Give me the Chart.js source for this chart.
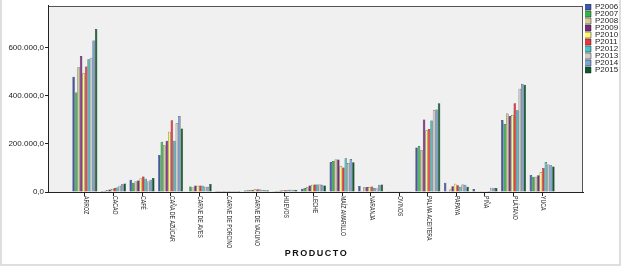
<!DOCTYPE html>
<html>
<head>
<meta charset="utf-8">
<script src="https://cdn.jsdelivr.net/npm/chart.js@4.4.0/dist/chart.umd.min.js"></script>
<style>
  body { margin: 0; background: #fff; }
  canvas { display: block; }
</style>
</head>
<body>
<canvas id="chart" width="621" height="267"></canvas>
<script>
// categories on the x axis
const categories = ['ARROZ', 'CACAO', 'CAFÉ', 'CAÑA DE AZÚCAR', 'CARNE DE AVES', 'CARNE DE PORCINO',
  'CARNE DE VACUNO', 'HUEVOS', 'LECHE', 'MAÍZ AMARILLO', 'NARANJA', 'OVINOS', 'PALMA ACEITERA',
  'PAPAYA', 'PIÑA', 'PLÁTANO', 'YUCA'];

const seriesNames = ['P2006', 'P2007', 'P2008', 'P2009', 'P2010', 'P2011', 'P2012', 'P2013', 'P2014', 'P2015'];

// production per year
const p2006 = [480000, 4000, 51000, 154000, 2000, 4000, 6000, 3000, 14000, 125000, 25000, 800, 185000, 38000, 13000, 300000, 71000];
const p2007 = [414000, 5000, 38000, 209000, 23000, 4000, 7000, 4000, 17000, 129000, 3000, 800, 191000, 3000, 1000, 283000, 63000];
const p2008 = [519000, 8000, 44000, 195000, 19000, 4000, 8000, 5000, 20000, 135000, 20000, 800, 174000, 10000, 1000, 327000, 63000];
const p2009 = [566000, 10000, 48000, 213000, 27000, 4000, 9000, 6000, 27000, 135000, 21000, 800, 302000, 24000, 1000, 316000, 70000];
const p2010 = [494000, 13000, 56000, 251000, 26000, 4000, 11000, 8000, 30000, 107000, 21000, 800, 257000, 34000, 1000, 320000, 82000];
const p2011 = [522000, 17000, 64000, 299000, 27000, 4000, 11000, 7000, 31000, 102000, 23000, 800, 262000, 28000, 1000, 369000, 100000];
const p2012 = [553000, 19000, 55000, 213000, 26000, 4000, 10000, 9000, 31000, 140000, 17000, 800, 298000, 22000, 4000, 340000, 125000];
const p2013 = [559000, 26000, 44000, 286000, 22000, 4000, 8000, 9000, 31000, 121000, 15000, 800, 340000, 31000, 18000, 430000, 114000];
const p2014 = [631000, 32000, 51000, 316000, 22000, 4000, 7000, 9000, 30000, 137000, 30000, 800, 343000, 30000, 16000, 450000, 111000];
const p2015 = [678000, 35000, 58000, 264000, 33000, 4000, 7000, 8000, 27000, 124000, 31000, 800, 369000, 22000, 17000, 446000, 106000];

const yTicks = [0, 200000, 400000, 600000];
const yMax = 775000;
const xTitle = 'PRODUCTO';

const colors = ['#3e58ac', '#2eb848', '#d3ce97', '#7c287d', '#fbf873', '#ef3338', '#48c2c5', '#cccccc', '#7ba4dd', '#0b5a2d'];
const allSeries = [p2006, p2007, p2008, p2009, p2010, p2011, p2012, p2013, p2014, p2015];

// empty room (in categories) left and right of the bars inside the plot box
const padLeft = 1.29;
const padRight = 1.43;

function formatNumber(v) {
  return Math.round(v).toString().replace(/\B(?=(\d{3})+(?!\d))/g, '.') + ',0';
}

const datasets = seriesNames.map((name, i) => ({
  label: name,
  data: allSeries[i],
  backgroundColor: colors[i],
  borderColor: '#222',
  borderWidth: 0.5,
  categoryPercentage: 0.875,
  barPercentage: 1
}));

const plotBackground = {
  id: 'plotBackground',
  beforeDraw(chart) {
    const {ctx, chartArea: a, width, height} = chart;
    // legend sits just right of the plot box
    chart.legend.left = a.right + 2;
    ctx.save();
    ctx.fillStyle = '#f0f0f0';
    ctx.fillRect(a.left, a.top, a.right - a.left, a.bottom - a.top);
    ctx.strokeStyle = '#555';
    ctx.lineWidth = 1;
    ctx.strokeRect(Math.round(a.left) + 0.5, Math.round(a.top) + 0.5,
      Math.round(a.right - a.left) - 1, Math.round(a.bottom - a.top));
    // light frame round the picture
    ctx.strokeStyle = '#dedede';
    ctx.lineWidth = 2;
    ctx.beginPath();
    ctx.moveTo(1, 0);
    ctx.lineTo(1, height - 2);
    ctx.lineTo(width - 1, height - 2);
    ctx.lineTo(width - 1, 0);
    ctx.stroke();
    ctx.restore();
  }
};

// category labels read top to bottom, so they are drawn here
const xLabels = {
  id: 'xLabels',
  afterDraw(chart) {
    const {ctx} = chart;
    const x = chart.scales.x;
    ctx.save();
    ctx.fillStyle = '#222';
    ctx.font = '7px "Liberation Sans", Arial, sans-serif';
    ctx.textAlign = 'left';
    ctx.textBaseline = 'middle';
    categories.forEach((label, i) => {
      ctx.save();
      ctx.translate(x.getPixelForTick(i) + 1, x.top + 4);
      ctx.rotate(Math.PI / 2);
      ctx.scale(0.74, 1);
      ctx.fillText(label, 0, 0);
      ctx.restore();
    });
    ctx.font = 'bold 9px "Liberation Sans", Arial, sans-serif';
    ctx.letterSpacing = '1.5px';
    ctx.textAlign = 'center';
    ctx.fillStyle = '#111';
    ctx.fillText(xTitle, (x.left + x.right) / 2 + 1, x.bottom - 9);
    ctx.restore();
  }
};

const chart = new Chart(document.getElementById('chart'), {
  type: 'bar',
  data: { labels: categories, datasets: datasets },
  options: {
    responsive: false,
    animation: false,
    devicePixelRatio: 1,
    layout: { padding: { top: 4, right: 2, bottom: 4, left: 0 } },
    plugins: {
      legend: {
        position: 'right',
        align: 'start',
        maxWidth: 36,
        labels: {
          boxWidth: 7,
          boxHeight: 6,
          padding: -1,
          color: '#222',
          font: { family: '"Liberation Sans", Arial, sans-serif', size: 8 }
        }
      },
      tooltip: { enabled: false }
    },
    scales: {
      x: {
        offset: true,
        grid: { display: true, drawOnChartArea: false, drawTicks: true, tickLength: 4, offset: false, color: '#222' },
        border: { display: true, color: '#222' },
        ticks: { display: false },
        afterBuildTicks(scale) {
          scale._startValue = -padLeft;
          scale._valueRange = categories.length - 1 + padLeft + padRight;
        },
        afterFit(scale) { scale.height = 71; }
      },
      y: {
        min: 0,
        max: yMax,
        grid: { display: true, drawOnChartArea: false, tickLength: 3, color: '#222' },
        border: { display: true, color: '#222' },
        ticks: {
          padding: 1,
          color: '#222',
          font: { family: '"Liberation Sans", Arial, sans-serif', size: 8 },
          callback: (v) => formatNumber(v)
        },
        afterBuildTicks(scale) { scale.ticks = yTicks.map(v => ({ value: v })); },
        afterFit(scale) { scale.width = 48; }
      }
    }
  },
  plugins: [plotBackground, xLabels]
});
</script>
</body>
</html>
